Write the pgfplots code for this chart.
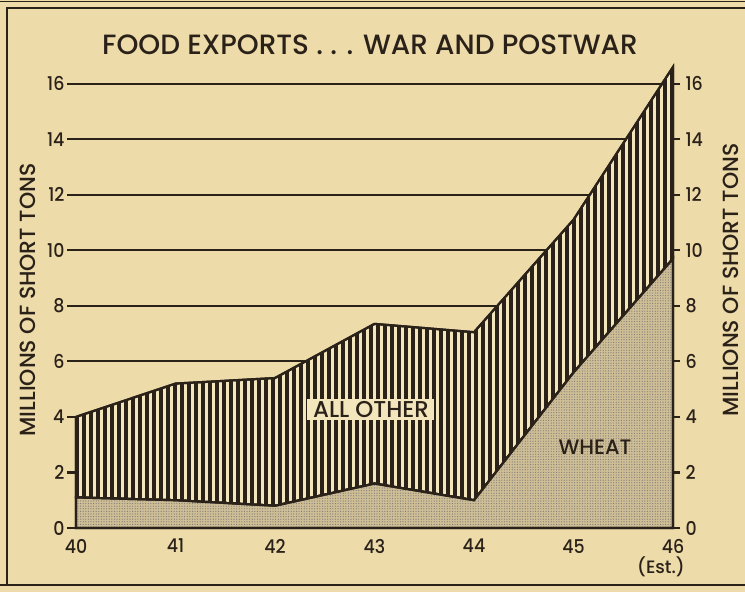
\documentclass[border=0pt]{standalone}
\usepackage{pgfplots}
\pgfplotsset{compat=1.18}
\usepackage{fontspec}
\setmainfont{Poppins}
\newfontfamily\mf{Poppins Medium}
\newfontfamily\mfn{Poppins Medium}[FakeStretch=0.92]
\usetikzlibrary{patterns.meta}
\definecolor{bg}{RGB}{237,219,170}
\definecolor{bgl}{RGB}{243,229,188}
\definecolor{ink}{RGB}{42,33,25}
\definecolor{wheatc}{RGB}{206,190,150}
\begin{document}
\begin{tikzpicture}[x=1bp,y=1bp]
\useasboundingbox (0,0) rectangle (745,592);
\fill[bg] (0,0) rectangle (745,592);
\draw[ink, line width=2] (7,7) -- (7,584) -- (745,584);
\draw[ink, line width=2] (0,7) -- (745,7);
\draw[ink, line width=1] (0,590) -- (745,590);
\node[ink, font=\mf\fontsize{28}{28}\selectfont] at (370,547) {FOOD EXPORTS . . . WAR AND POSTWAR};
\node[ink, rotate=90, font=\mf\fontsize{22}{22}\selectfont] at (28,292) {MILLIONS OF SHORT TONS};
\node[ink, rotate=90, font=\mf\fontsize{22}{22}\selectfont] at (731,312) {MILLIONS OF SHORT TONS};
\begin{axis}[
  at={(76bp,64bp)}, anchor=south west,
  scale only axis, width=597bp, height=461bp,
  xmin=40, xmax=46, ymin=0, ymax=16.6,
  clip=false,
  axis x line*=bottom, axis y line*=left,
  x axis line style={-, ink, line width=2.2},
  y axis line style={draw=none},
  xtick={40,41,...,46},
  xticklabels={40,41,42,43,44,45,46},
  xtick style={draw=none},
  ytick={0,2,...,16},
  tick align=outside,
  major tick length=9bp,
  ytick style={ink, line width=2.2},
  ymajorgrids,
  grid style={ink, line width=2.2},
  /pgf/number format/assume math mode=true,
  ticklabel style={ink, font=\mfn\fontsize{19}{19}\selectfont},
  xticklabel style={yshift=-1bp, inner sep=1bp},
  yticklabel style={xshift=1bp},
  stack plots=y,
]
\addplot[draw=ink, line width=2.2, fill=wheatc,
  postaction={pattern={Dots[distance=2.6bp, radius=0.6bp]}, pattern color=ink!60}]
  coordinates {(40,1.1) (41,1.0) (42,0.8) (43,1.6) (44,1.0) (45,5.6) (46,9.7)} \closedcycle;
\addplot[draw=ink, line width=2.2, fill=bgl,
  postaction={pattern={Lines[angle=90, distance=7bp, line width=3.7bp]}, pattern color=ink}]
  coordinates {(40,2.9) (41,4.2) (42,4.6) (43,5.75) (44,6.05) (45,5.5) (46,6.9)} \closedcycle;
\end{axis}
\begin{axis}[
  at={(76bp,64bp)}, anchor=south west,
  scale only axis, width=597bp, height=461bp,
  xmin=40, xmax=46, ymin=0, ymax=16.6,
  axis x line=none, axis y line*=right,
  y axis line style={-, ink, line width=2.2},
  ytick={0,2,...,16},
  tick align=outside,
  major tick length=7bp,
  ytick style={ink, line width=2.2},
  /pgf/number format/assume math mode=true,
  ticklabel style={ink, font=\mfn\fontsize{19}{19}\selectfont},
  yticklabel style={xshift=2bp},
]
\addplot[draw=none] coordinates {(40,0)};
\end{axis}
\fill[bgl] (307,172) rectangle (434,193);
\node[text=ink, font=\mf\fontsize{23}{23}\selectfont] at (371,182) {ALL OTHER};
\node[text=ink, font=\mf\fontsize{21}{21}\selectfont] at (595,145) {WHEAT};
\node[text=ink, inner sep=0pt, font=\mf\fontsize{18}{18}\selectfont] at (661,25) {(Est.)};
\end{tikzpicture}
\end{document}
